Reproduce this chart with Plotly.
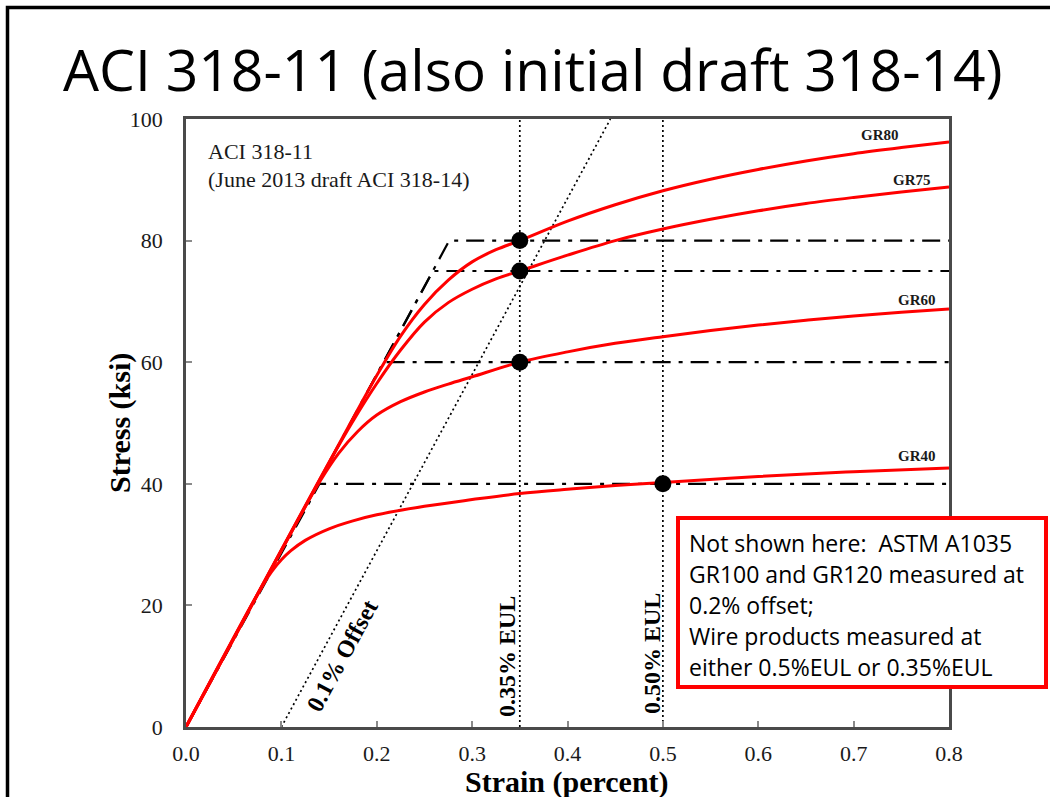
import plotly.graph_objects as go

# ---------------- data ----------------
strain_gr80 = [0, 0.15, 0.2, 0.225, 0.25, 0.275, 0.3, 0.325, 0.35, 0.4, 0.45, 0.5, 0.55, 0.6, 0.65, 0.7, 0.75, 0.8]
stress_gr80 = [0, 43.5, 57.8, 64.3, 69.5, 73.5, 76.5, 78.5, 80.0, 83.2, 85.9, 88.2, 90.1, 91.7, 93.1, 94.3, 95.3, 96.2]

strain_gr75 = [0, 0.15, 0.175, 0.2, 0.225, 0.25, 0.275, 0.3, 0.325, 0.35, 0.4, 0.45, 0.5, 0.55, 0.6, 0.65, 0.7, 0.75, 0.8]
stress_gr75 = [0, 43.5, 50.3, 56.5, 62.0, 66.6, 69.8, 72.0, 73.7, 75.0, 77.6, 80.0, 81.9, 83.5, 84.9, 86.1, 87.1, 88.0, 88.8]

strain_gr60 = [0, 0.12, 0.14, 0.16, 0.18, 0.2, 0.225, 0.25, 0.275, 0.3, 0.35, 0.4, 0.45, 0.5, 0.55, 0.6, 0.65, 0.7, 0.75, 0.8]
stress_gr60 = [0, 34.8, 40.3, 45.0, 48.6, 51.3, 53.5, 55.1, 56.4, 57.6, 60.0, 61.7, 63.1, 64.2, 65.2, 66.1, 66.9, 67.6, 68.2, 68.75]

strain_gr40 = [0, 0.08, 0.09, 0.1, 0.11, 0.125, 0.15, 0.175, 0.2, 0.25, 0.3, 0.35, 0.4, 0.45, 0.5, 0.6, 0.7, 0.8]
stress_gr40 = [0, 23.2, 25.6, 27.5, 29.0, 30.7, 32.6, 33.9, 34.9, 36.3, 37.4, 38.4, 39.1, 39.7, 40.2, 41.2, 42.0, 42.6]

grade_names = ["GR80", "GR75", "GR60", "GR40"]
yield_stress = [80, 75, 60, 40]
yield_corner_strain = [0.276, 0.259, 0.207, 0.14]

offset_line_strain = [0.1, 0.445]
offset_line_stress = [0, 100]

eul_strains = [0.35, 0.5]

point_strain = [0.35, 0.35, 0.35, 0.5]
point_stress = [80, 75, 60, 40]

x_ticks = [0.0, 0.1, 0.2, 0.3, 0.4, 0.5, 0.6, 0.7, 0.8]
x_tick_text = ["0.0", "0.1", "0.2", "0.3", "0.4", "0.5", "0.6", "0.7", "0.8"]
y_ticks = [0, 20, 40, 60, 80, 100]
y_tick_text = ["0", "20", "40", "60", "80", "100"]

note_lines = [
    "Not shown here:  ASTM A1035",
    "GR100 and GR120 measured at",
    "0.2% offset;",
    "Wire products measured at",
    "either 0.5%EUL or 0.35%EUL",
]

# ---------------- layout helpers (pixel -> paper) ----------------
W, H = 1050, 797
L, R, T, B = 186, 949, 119, 727


def px(x):
    return (x - L) / (R - L)


def py(y):
    return (B - y) / (B - T)


SERIF = "Liberation Serif, Times New Roman, serif"
SANS = "Open Sans, Noto Sans, sans-serif"
RED = "#ff0000"

fig = go.Figure()

# dotted 0.1% offset line
fig.add_trace(go.Scatter(x=offset_line_strain, y=offset_line_stress, mode="lines",
                         line=dict(color="black", width=1.7, dash="2px,3px"),
                         hoverinfo="skip", showlegend=False))
# dotted EUL lines
for s in eul_strains:
    fig.add_trace(go.Scatter(x=[s, s], y=[0, 100], mode="lines",
                             line=dict(color="black", width=1.7, dash="2px,3px"),
                             hoverinfo="skip", showlegend=False))

# dash-dot elastic-plastic lines
for fy, ec in zip(yield_stress, yield_corner_strain):
    fig.add_trace(go.Scatter(x=[0, ec, 0.8], y=[0, fy, fy], mode="lines",
                             line=dict(color="black", width=2.2, dash="18px,8px,4px,8px"),
                             hoverinfo="skip", showlegend=False))

# red stress-strain curves
for xs, ys in [(strain_gr40, stress_gr40), (strain_gr60, stress_gr60),
               (strain_gr75, stress_gr75), (strain_gr80, stress_gr80)]:
    fig.add_trace(go.Scatter(x=xs, y=ys, mode="lines",
                             line=dict(color=RED, width=3, shape="spline", smoothing=1.0),
                             hoverinfo="skip", showlegend=False))

# yield points
fig.add_trace(go.Scatter(x=point_strain, y=point_stress, mode="markers",
                         marker=dict(color="black", size=17),
                         hoverinfo="skip", showlegend=False))

annotations = []

# title
annotations.append(dict(text="ACI 318-11 (also initial draft 318-14)", x=px(532), y=py(69),
                        xref="paper", yref="paper", xanchor="center", yanchor="middle",
                        showarrow=False, font=dict(family=SANS, size=57, color="black")))

# inset text
annotations.append(dict(text="ACI 318-11", x=px(206), y=py(151),
                        xref="paper", yref="paper", xanchor="left", yanchor="middle",
                        showarrow=False, font=dict(family=SERIF, size=22, color="#1a1a1a")))
annotations.append(dict(text="(June 2013 draft ACI 318-14)", x=px(206), y=py(179),
                        xref="paper", yref="paper", xanchor="left", yanchor="middle",
                        showarrow=False, font=dict(family=SERIF, size=22, color="#1a1a1a")))

# grade labels
grade_label_px = [(880, 135), (912, 180), (917, 300), (917, 456)]
for name, (gx, gy) in zip(grade_names, grade_label_px):
    annotations.append(dict(text="<b>%s</b>" % name, x=px(gx), y=py(gy),
                            xref="paper", yref="paper", xanchor="center", yanchor="middle",
                            showarrow=False, font=dict(family=SERIF, size=15, color="#1a1a1a")))

# rotated labels
annotations.append(dict(text="<b>0.1% Offset</b>", x=px(342), y=py(656), textangle=-61.5,
                        xref="paper", yref="paper", xanchor="center", yanchor="middle",
                        showarrow=False, font=dict(family=SERIF, size=24, color="black")))
annotations.append(dict(text="<b>0.35% EUL</b>", x=px(507), y=py(657), textangle=-90,
                        xref="paper", yref="paper", xanchor="center", yanchor="middle",
                        showarrow=False, font=dict(family=SERIF, size=24, color="black")))
annotations.append(dict(text="<b>0.50% EUL</b>", x=px(652), y=py(654), textangle=-90,
                        xref="paper", yref="paper", xanchor="center", yanchor="middle",
                        showarrow=False, font=dict(family=SERIF, size=24, color="black")))

# axis titles
annotations.append(dict(text="<b>Strain (percent)</b>", x=px(567), y=py(782),
                        xref="paper", yref="paper", xanchor="center", yanchor="middle",
                        showarrow=False, font=dict(family=SERIF, size=30, color="black")))
annotations.append(dict(text="<b>Stress (ksi)</b>", x=px(120), y=py(423), textangle=-90,
                        xref="paper", yref="paper", xanchor="center", yanchor="middle",
                        showarrow=False, font=dict(family=SERIF, size=30, color="black")))

# note box text
note_line_centers = [543, 574, 605, 636, 667]
for line, cy in zip(note_lines, note_line_centers):
    annotations.append(dict(text=line, x=px(687), y=py(cy),
                            xref="paper", yref="paper", xanchor="left", yanchor="middle",
                            showarrow=False, font=dict(family=SANS, size=23, color="black")))

shapes = [
    # slide border
    dict(type="rect", xref="paper", yref="paper", x0=px(7.5), x1=px(1200), y0=py(1000), y1=py(7.5),
         line=dict(color="black", width=3.5), fillcolor="rgba(0,0,0,0)", layer="above"),
    # note box
    dict(type="rect", xref="paper", yref="paper", x0=px(678), x1=px(1046), y0=py(687), y1=py(518),
         line=dict(color=RED, width=4), fillcolor="white", layer="above"),
]

axis_common = dict(showline=True, mirror=True, linecolor="#4a4a4a", linewidth=2.5,
                   showgrid=False, zeroline=False, ticks="inside", ticklen=6,
                   tickcolor="#8a8a8a", tickwidth=1.5,
                   tickfont=dict(family=SERIF, size=22, color="#1a1a1a"))

fig.update_layout(
    width=W, height=H,
    margin=dict(l=L, r=W - R, t=T, b=H - B, autoexpand=False),
    paper_bgcolor="white", plot_bgcolor="white",
    showlegend=False,
    xaxis=dict(range=[0, 0.8], tickvals=x_ticks, ticktext=x_tick_text,
               ticklabelstandoff=5, **axis_common),
    yaxis=dict(range=[0, 100], tickvals=y_ticks, ticktext=y_tick_text,
               ticklabelstandoff=16, **axis_common),
    annotations=annotations,
    shapes=shapes,
)

fig.write_html("out.html")
